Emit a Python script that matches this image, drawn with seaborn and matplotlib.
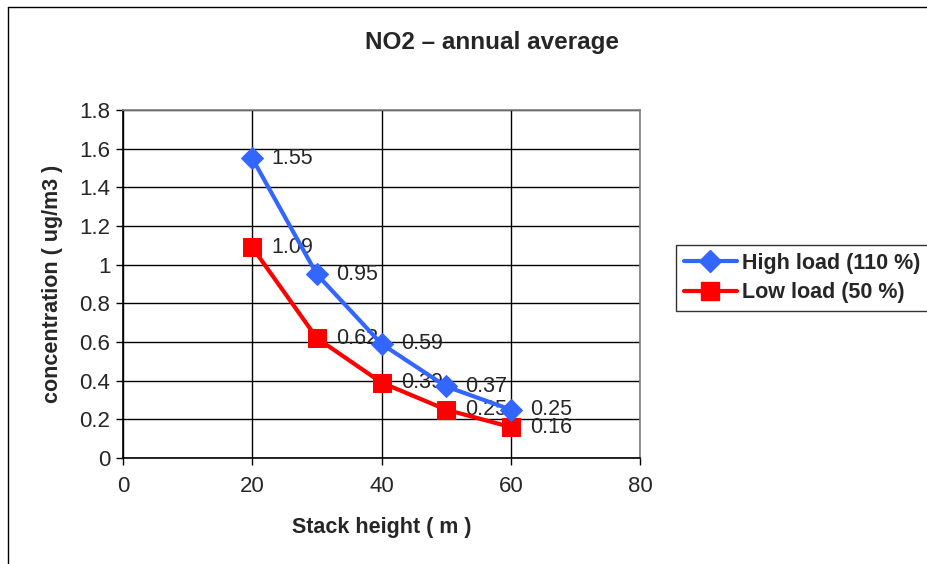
import matplotlib
matplotlib.use("Agg")
import matplotlib.pyplot as plt
import seaborn as sns
import pandas as pd
from matplotlib.lines import Line2D

heights = [20, 30, 40, 50, 60]
high_load = [1.55, 0.95, 0.59, 0.37, 0.25]
low_load = [1.09, 0.62, 0.39, 0.25, 0.16]
series_names = ["High load (110 %)", "Low load (50 %)"]
x_ticks = [0, 20, 40, 60, 80]
y_ticks = [0, 0.2, 0.4, 0.6, 0.8, 1, 1.2, 1.4, 1.6, 1.8]
y_tick_labels = ["0", "0.2", "0.4", "0.6", "0.8", "1", "1.2", "1.4", "1.6", "1.8"]

sns.set_style("white")
plt.rcParams["font.family"] = ["Liberation Sans", "DejaVu Sans"]

FS_TICK = 16
FS_DATA = 15.5
FS_LABEL = 15.5
FS_LEG = 15.5
FS_TITLE = 17.5
blue = "#3366FF"
red = "#FF0000"

fig = plt.figure(figsize=(9.28, 5.64), dpi=100)
ax = fig.add_axes([123/928, 1-458/564, (640-123)/928, (458-110)/564])

df = pd.DataFrame({
    "x": heights * 2,
    "y": high_load + low_load,
    "series": [series_names[0]] * 5 + [series_names[1]] * 5,
})

sns.lineplot(data=df[df.series == series_names[0]], x="x", y="y", ax=ax,
             color=blue, marker="D", markersize=11, markeredgecolor=blue,
             linewidth=3, zorder=4, legend=False)
sns.lineplot(data=df[df.series == series_names[1]], x="x", y="y", ax=ax,
             color=red, marker="s", markersize=13, markeredgecolor=red,
             linewidth=3, zorder=3, legend=False)

for xv, yv in zip(heights, high_load):
    ax.annotate(f"{yv:.2f}", (xv, yv), xytext=(14, 0), textcoords="offset points",
                va="center", ha="left", fontsize=FS_DATA, zorder=2)
for xv, yv in zip(heights, low_load):
    ax.annotate(f"{yv:.2f}", (xv, yv), xytext=(14, 0), textcoords="offset points",
                va="center", ha="left", fontsize=FS_DATA, zorder=2)

ax.set_xlim(0, 80)
ax.set_ylim(0, 1.8)
ax.set_xticks(x_ticks)
ax.set_yticks(y_ticks)
ax.set_yticklabels(y_tick_labels)
ax.tick_params(axis="both", labelsize=FS_TICK, direction="out", length=5, width=1,
               color="black", left=True, bottom=True)
ax.tick_params(axis="x", pad=8)
ax.tick_params(axis="y", pad=4)
ax.grid(True, color="black", linewidth=1)
ax.set_axisbelow(True)
for s in ["left", "bottom"]:
    ax.spines[s].set_color("black")
    ax.spines[s].set_linewidth(1.2)
for s in ["top", "right"]:
    ax.spines[s].set_color("#808080")
    ax.spines[s].set_linewidth(1.2)

ax.set_xlabel("Stack height ( m )", fontsize=FS_LABEL, fontweight="bold", labelpad=14)
ax.set_ylabel("concentration ( ug/m3 )", fontsize=FS_LABEL, fontweight="bold", labelpad=12)
fig.text(492/928, 1-42/564, "NO2 – annual average", fontsize=FS_TITLE, fontweight="bold",
         ha="center", va="center")

handles = [
    Line2D([], [], color=blue, marker="D", markersize=11, linewidth=3),
    Line2D([], [], color=red, marker="s", markersize=13, linewidth=3),
]
leg = fig.legend(handles, series_names, loc="upper left",
                 bbox_to_anchor=(676/928, 1-245/564), frameon=True, fancybox=False,
                 edgecolor="black", prop={"size": FS_LEG, "weight": "bold"},
                 handlelength=2.5, handletextpad=0.2, borderpad=0.35,
                 labelspacing=0.4, borderaxespad=0)
leg.get_frame().set_linewidth(1)

fig.add_artist(Line2D([8.5/928, 8.5/928], [0, 1-6.5/564], color="black",
                      linewidth=1, transform=fig.transFigure))
fig.add_artist(Line2D([8.5/928, 1], [1-6.5/564, 1-6.5/564], color="black",
                      linewidth=1, transform=fig.transFigure))

fig.savefig("out.png", dpi=100)
